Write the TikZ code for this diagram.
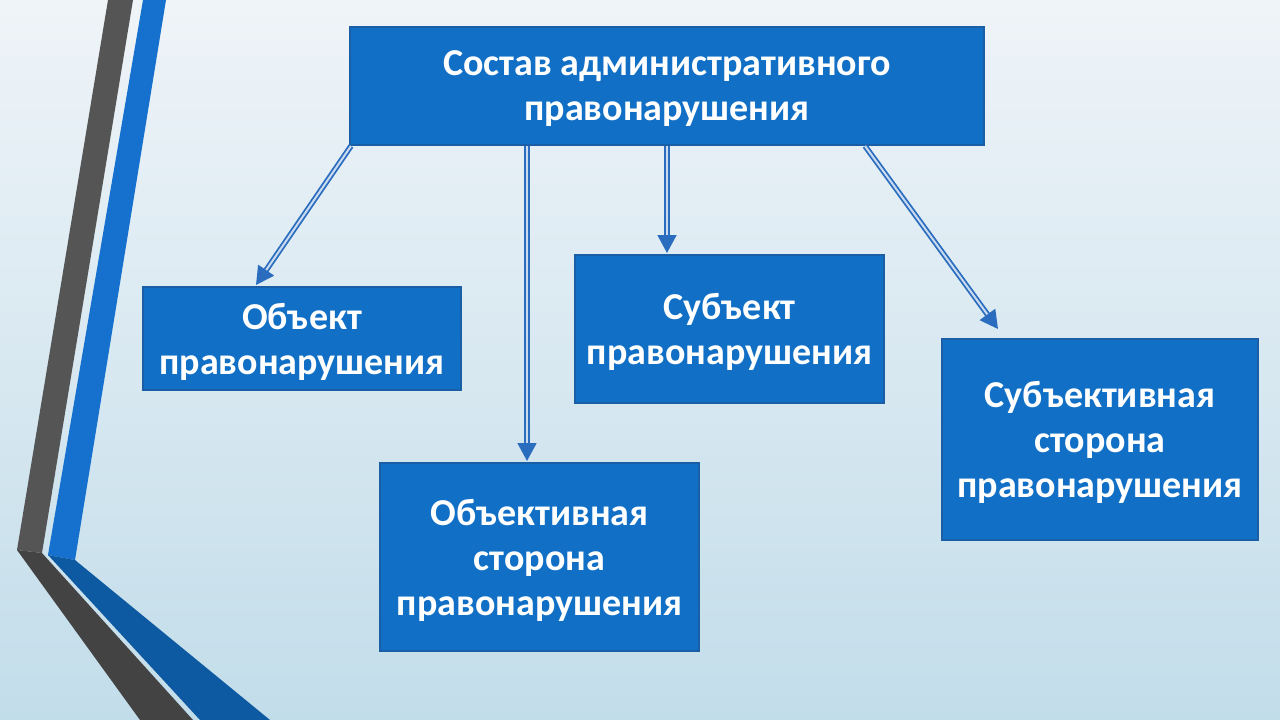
\documentclass[tikz,border=0pt]{standalone}
\usepackage{fontspec}
\setmainfont{Carlito}
\usetikzlibrary{calc,arrows.meta}

\definecolor{boxblue}{HTML}{1170C6}
\definecolor{boxedge}{HTML}{1A5FA6}
\definecolor{arrowblue}{HTML}{2A6DBF}
\definecolor{bandgray}{HTML}{555555}
\definecolor{bandgraydark}{HTML}{434343}
\definecolor{bandblue}{HTML}{1571CD}
\definecolor{bandbluedark}{HTML}{0E5AA2}
\definecolor{bgtop}{HTML}{EFF4F8}
\definecolor{bgbottom}{HTML}{C2DDEA}

\tikzset{
    part/.style={rectangle, draw=boxedge, line width=2pt, fill=boxblue,
        text=white, align=center, inner sep=0pt, text depth=-2pt,
        font=\fontsize{38}{45}\selectfont\bfseries},
    link/.style={draw=arrowblue, line width=1.8pt, double=white!75!arrowblue,
        double distance=2pt, -{Triangle[length=18pt,width=19pt]}}
}

\begin{document}
\begin{tikzpicture}[x=1pt, y=-1pt]

    % Background
    \useasboundingbox (0,0) rectangle (1280,720);
    \shade[top color=bgtop, bottom color=bgbottom] (0,0) rectangle (1280,720);

    % Left bands
    \fill[bandgray] (108,0) -- (133,0) -- (42,553) -- (17,550) -- cycle;
    \fill[bandgraydark] (17,550) -- (42,553) -- (193,720) -- (140,720) -- cycle;
    \fill[bandblue] (143,0) -- (166,0) -- (75,560) -- (48,555) -- cycle;
    \fill[bandbluedark] (48,555) -- (75,560) -- (270,720) -- (200,720) -- cycle;

    % Boxes
    \node[part, minimum width=634pt, minimum height=118pt] (top) at (667,86)
        {Состав административного\\правонарушения};
    \node[part, minimum width=318pt, minimum height=103pt] (obj) at (302,338.5)
        {Объект\\правонарушения};
    \node[part, minimum width=309pt, minimum height=148pt] (subj) at (729.5,329)
        {Субъект\\правонарушения};
    \node[part, minimum width=319pt, minimum height=188pt] (objside) at (539.5,557)
        {Объективная\\сторона\\правонарушения};
    \node[part, minimum width=316pt, minimum height=201pt] (subjside) at (1100,439.5)
        {Субъективная\\сторона\\правонарушения};

    % Connectors
    \coordinate (objend) at ($(obj.north)+(-46,-1)$);
    \coordinate (objsideend) at ($(objside.north)+(-12.5,-1)$);
    \coordinate (subjsideend) at ($(subjside.north)+(-102,-9)$);
    \draw[link] ($(top.south west)+(2,0)$) -- (objend);
    \draw[link] (top.south -| objsideend) -- (objsideend);
    \draw[link] (top.south) -- ($(top.south |- subj.north)+(0,-1)$);
    \draw[link] ($(top.south east)+(-120,0)$) -- (subjsideend);

\end{tikzpicture}
\end{document}
